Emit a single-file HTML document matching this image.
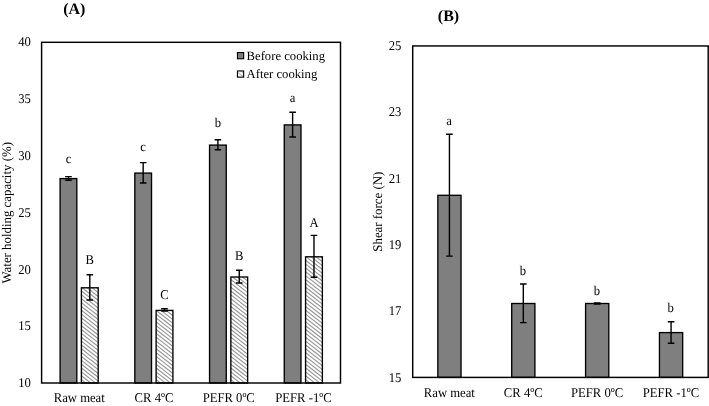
<!DOCTYPE html>
<html lang="en"><head><meta charset="utf-8"><title>Figure</title>
<style>
html,body{margin:0;padding:0;background:#fff;}
body{width:709px;height:406px;overflow:hidden;}
svg{display:block;}
svg text{font-family:"Liberation Serif",serif;font-size:12.67px;fill:#000;text-rendering:geometricPrecision;}
svg text.ttl{font-weight:bold;font-size:16px;}
</style></head><body>
<svg width="709" height="406" viewBox="0 0 709 406">
<rect x="0" y="0" width="709" height="406" fill="#fff"/>

<text x="74.30" y="14.10" text-anchor="middle" class="ttl">(A)</text>
<text transform="translate(30.80,46.40) scale(1.0,1.06)" text-anchor="end" >40</text>
<text transform="translate(30.80,103.18) scale(1.0,1.06)" text-anchor="end" >35</text>
<text transform="translate(30.80,159.97) scale(1.0,1.06)" text-anchor="end" >30</text>
<text transform="translate(30.80,216.75) scale(1.0,1.06)" text-anchor="end" >25</text>
<text transform="translate(30.80,273.53) scale(1.0,1.06)" text-anchor="end" >20</text>
<text transform="translate(30.80,330.32) scale(1.0,1.06)" text-anchor="end" >15</text>
<text transform="translate(30.80,387.10) scale(1.0,1.06)" text-anchor="end" >10</text>
<text transform="translate(11.0,212.8) rotate(-90) scale(0.975,1)" text-anchor="middle" style="font-size:13.2px">Water holding capacity (%)</text>
<rect x="60.10" y="178.60" width="16.70" height="204.40" fill="#7f7f7f" stroke="#000" stroke-width="1.35"/>
<path d="M68.45 176.60V180.30M65.15 176.60H71.75M65.15 180.30H71.75" stroke="#000" stroke-width="1.4" fill="none"/>
<text transform="translate(68.45,162.80) scale(1.0,1.06)" text-anchor="middle" >c</text>
<clipPath id="c1"><rect x="81.40" y="287.80" width="16.80" height="95.20"/></clipPath><rect x="81.40" y="287.80" width="16.80" height="95.20" fill="#fff"/><path clip-path="url(#c1)" d="M81.40 271.80L98.20 284.90M81.40 275.65L98.20 288.75M81.40 279.50L98.20 292.60M81.40 283.35L98.20 296.45M81.40 287.20L98.20 300.30M81.40 291.05L98.20 304.15M81.40 294.90L98.20 308.00M81.40 298.75L98.20 311.85M81.40 302.60L98.20 315.70M81.40 306.45L98.20 319.55M81.40 310.30L98.20 323.40M81.40 314.15L98.20 327.25M81.40 318.00L98.20 331.10M81.40 321.85L98.20 334.95M81.40 325.70L98.20 338.80M81.40 329.55L98.20 342.65M81.40 333.40L98.20 346.50M81.40 337.25L98.20 350.35M81.40 341.10L98.20 354.20M81.40 344.95L98.20 358.05M81.40 348.80L98.20 361.90M81.40 352.65L98.20 365.75M81.40 356.50L98.20 369.60M81.40 360.35L98.20 373.45M81.40 364.20L98.20 377.30M81.40 368.05L98.20 381.15M81.40 371.90L98.20 385.00M81.40 375.75L98.20 388.85M81.40 379.60L98.20 392.70" stroke="#969696" stroke-width="1.1" fill="none"/><rect x="81.40" y="287.80" width="16.80" height="95.20" fill="none" stroke="#000" stroke-width="1.35"/>
<path d="M89.80 274.80V300.00M86.50 274.80H93.10M86.50 300.00H93.10" stroke="#000" stroke-width="1.4" fill="none"/>
<text transform="translate(89.80,264.00) scale(1.0,1.06)" text-anchor="middle" >B</text>
<text transform="translate(79.26,401.60) scale(1.0,1.06)" text-anchor="middle" >Raw meat</text>
<rect x="134.82" y="173.10" width="16.70" height="209.90" fill="#7f7f7f" stroke="#000" stroke-width="1.35"/>
<path d="M143.17 162.60V183.00M139.87 162.60H146.47M139.87 183.00H146.47" stroke="#000" stroke-width="1.4" fill="none"/>
<text transform="translate(143.17,151.40) scale(1.0,1.06)" text-anchor="middle" >c</text>
<clipPath id="c2"><rect x="156.12" y="310.40" width="16.80" height="72.60"/></clipPath><rect x="156.12" y="310.40" width="16.80" height="72.60" fill="#fff"/><path clip-path="url(#c2)" d="M156.12 294.90L172.93 308.00M156.12 298.75L172.93 311.85M156.12 302.60L172.93 315.70M156.12 306.45L172.93 319.55M156.12 310.30L172.93 323.40M156.12 314.15L172.93 327.25M156.12 318.00L172.93 331.10M156.12 321.85L172.93 334.95M156.12 325.70L172.93 338.80M156.12 329.55L172.93 342.65M156.12 333.40L172.93 346.50M156.12 337.25L172.93 350.35M156.12 341.10L172.93 354.20M156.12 344.95L172.93 358.05M156.12 348.80L172.93 361.90M156.12 352.65L172.93 365.75M156.12 356.50L172.93 369.60M156.12 360.35L172.93 373.45M156.12 364.20L172.93 377.30M156.12 368.05L172.93 381.15M156.12 371.90L172.93 385.00M156.12 375.75L172.93 388.85M156.12 379.60L172.93 392.70" stroke="#969696" stroke-width="1.1" fill="none"/><rect x="156.12" y="310.40" width="16.80" height="72.60" fill="none" stroke="#000" stroke-width="1.35"/>
<path d="M164.53 308.70V311.10M161.22 308.70H167.83M161.22 311.10H167.83" stroke="#000" stroke-width="1.4" fill="none"/>
<text transform="translate(164.53,299.30) scale(1.0,1.06)" text-anchor="middle" >C</text>
<text transform="translate(153.99,401.60) scale(1.0,1.06)" text-anchor="middle" >CR 4ºC</text>
<rect x="209.55" y="145.10" width="16.70" height="237.90" fill="#7f7f7f" stroke="#000" stroke-width="1.35"/>
<path d="M217.90 139.80V149.80M214.60 139.80H221.20M214.60 149.80H221.20" stroke="#000" stroke-width="1.4" fill="none"/>
<text transform="translate(217.90,126.90) scale(1.0,1.06)" text-anchor="middle" >b</text>
<clipPath id="c3"><rect x="230.85" y="277.00" width="16.80" height="106.00"/></clipPath><rect x="230.85" y="277.00" width="16.80" height="106.00" fill="#fff"/><path clip-path="url(#c3)" d="M230.85 260.25L247.65 273.35M230.85 264.10L247.65 277.20M230.85 267.95L247.65 281.05M230.85 271.80L247.65 284.90M230.85 275.65L247.65 288.75M230.85 279.50L247.65 292.60M230.85 283.35L247.65 296.45M230.85 287.20L247.65 300.30M230.85 291.05L247.65 304.15M230.85 294.90L247.65 308.00M230.85 298.75L247.65 311.85M230.85 302.60L247.65 315.70M230.85 306.45L247.65 319.55M230.85 310.30L247.65 323.40M230.85 314.15L247.65 327.25M230.85 318.00L247.65 331.10M230.85 321.85L247.65 334.95M230.85 325.70L247.65 338.80M230.85 329.55L247.65 342.65M230.85 333.40L247.65 346.50M230.85 337.25L247.65 350.35M230.85 341.10L247.65 354.20M230.85 344.95L247.65 358.05M230.85 348.80L247.65 361.90M230.85 352.65L247.65 365.75M230.85 356.50L247.65 369.60M230.85 360.35L247.65 373.45M230.85 364.20L247.65 377.30M230.85 368.05L247.65 381.15M230.85 371.90L247.65 385.00M230.85 375.75L247.65 388.85M230.85 379.60L247.65 392.70" stroke="#969696" stroke-width="1.1" fill="none"/><rect x="230.85" y="277.00" width="16.80" height="106.00" fill="none" stroke="#000" stroke-width="1.35"/>
<path d="M239.25 270.20V283.00M235.95 270.20H242.55M235.95 283.00H242.55" stroke="#000" stroke-width="1.4" fill="none"/>
<text transform="translate(239.25,259.70) scale(1.0,1.06)" text-anchor="middle" >B</text>
<text transform="translate(228.71,401.60) scale(1.0,1.06)" text-anchor="middle" >PEFR 0ºC</text>
<rect x="284.27" y="124.90" width="16.70" height="258.10" fill="#7f7f7f" stroke="#000" stroke-width="1.35"/>
<path d="M292.62 112.30V137.00M289.32 112.30H295.93M289.32 137.00H295.93" stroke="#000" stroke-width="1.4" fill="none"/>
<text transform="translate(292.62,102.20) scale(1.0,1.06)" text-anchor="middle" >a</text>
<clipPath id="c4"><rect x="305.57" y="256.80" width="16.80" height="126.20"/></clipPath><rect x="305.57" y="256.80" width="16.80" height="126.20" fill="#fff"/><path clip-path="url(#c4)" d="M305.57 241.00L322.38 254.10M305.57 244.85L322.38 257.95M305.57 248.70L322.38 261.80M305.57 252.55L322.38 265.65M305.57 256.40L322.38 269.50M305.57 260.25L322.38 273.35M305.57 264.10L322.38 277.20M305.57 267.95L322.38 281.05M305.57 271.80L322.38 284.90M305.57 275.65L322.38 288.75M305.57 279.50L322.38 292.60M305.57 283.35L322.38 296.45M305.57 287.20L322.38 300.30M305.57 291.05L322.38 304.15M305.57 294.90L322.38 308.00M305.57 298.75L322.38 311.85M305.57 302.60L322.38 315.70M305.57 306.45L322.38 319.55M305.57 310.30L322.38 323.40M305.57 314.15L322.38 327.25M305.57 318.00L322.38 331.10M305.57 321.85L322.38 334.95M305.57 325.70L322.38 338.80M305.57 329.55L322.38 342.65M305.57 333.40L322.38 346.50M305.57 337.25L322.38 350.35M305.57 341.10L322.38 354.20M305.57 344.95L322.38 358.05M305.57 348.80L322.38 361.90M305.57 352.65L322.38 365.75M305.57 356.50L322.38 369.60M305.57 360.35L322.38 373.45M305.57 364.20L322.38 377.30M305.57 368.05L322.38 381.15M305.57 371.90L322.38 385.00M305.57 375.75L322.38 388.85M305.57 379.60L322.38 392.70" stroke="#969696" stroke-width="1.1" fill="none"/><rect x="305.57" y="256.80" width="16.80" height="126.20" fill="none" stroke="#000" stroke-width="1.35"/>
<path d="M313.98 235.40V277.30M310.68 235.40H317.28M310.68 277.30H317.28" stroke="#000" stroke-width="1.4" fill="none"/>
<text transform="translate(313.98,227.20) scale(1.0,1.06)" text-anchor="middle" >A</text>
<text transform="translate(303.44,401.60) scale(1.0,1.06)" text-anchor="middle" >PEFR -1ºC</text>
<rect x="41.6" y="42.3" width="298.9" height="340.7" fill="none" stroke="#000" stroke-width="1.45"/>
<rect x="237.45" y="52.55" width="6.2" height="6.2" fill="#7f7f7f" stroke="#000" stroke-width="1.1"/>
<text transform="translate(246.60,59.50) scale(1.0,1.0)" text-anchor="start" >Before cooking</text>
<clipPath id="c5"><rect x="237.45" y="70.95" width="6.20" height="6.20"/></clipPath><rect x="237.45" y="70.95" width="6.20" height="6.20" fill="#fff"/><path clip-path="url(#c5)" d="M237.45 64.46L243.65 69.30M237.45 68.31L243.65 73.15M237.45 72.16L243.65 77.00M237.45 76.01L243.65 80.85" stroke="#bbbbbb" stroke-width="1.1" fill="none"/><rect x="237.45" y="70.95" width="6.20" height="6.20" fill="none" stroke="#000" stroke-width="1.1"/>
<text transform="translate(246.60,78.00) scale(1.0,1.0)" text-anchor="start" >After cooking</text>
<text x="448.50" y="20.60" text-anchor="middle" class="ttl">(B)</text>
<text transform="translate(401.40,50.05) scale(1.0,1.06)" text-anchor="end" >25</text>
<text transform="translate(401.40,116.34) scale(1.0,1.06)" text-anchor="end" >23</text>
<text transform="translate(401.40,182.63) scale(1.0,1.06)" text-anchor="end" >21</text>
<text transform="translate(401.40,248.92) scale(1.0,1.06)" text-anchor="end" >19</text>
<text transform="translate(401.40,315.21) scale(1.0,1.06)" text-anchor="end" >17</text>
<text transform="translate(401.40,381.50) scale(1.0,1.06)" text-anchor="end" >15</text>
<text transform="translate(382.2,211.7) rotate(-90) scale(0.975,1)" text-anchor="middle" style="font-size:13.2px">Shear force (N)</text>
<rect x="437.84" y="195.30" width="23.20" height="182.10" fill="#7f7f7f" stroke="#000" stroke-width="1.35"/>
<path d="M449.44 134.30V256.10M446.14 134.30H452.74M446.14 256.10H452.74" stroke="#000" stroke-width="1.4" fill="none"/>
<text transform="translate(449.14,125.00) scale(1.0,1.06)" text-anchor="middle" >a</text>
<text transform="translate(449.34,397.20) scale(1.0,1.06)" text-anchor="middle" >Raw meat</text>
<rect x="511.71" y="303.50" width="23.20" height="73.90" fill="#7f7f7f" stroke="#000" stroke-width="1.35"/>
<path d="M523.31 284.00V322.60M520.01 284.00H526.61M520.01 322.60H526.61" stroke="#000" stroke-width="1.4" fill="none"/>
<text transform="translate(523.01,275.20) scale(1.0,1.06)" text-anchor="middle" >b</text>
<text transform="translate(523.21,397.20) scale(1.0,1.06)" text-anchor="middle" >CR 4ºC</text>
<rect x="585.59" y="303.50" width="23.20" height="73.90" fill="#7f7f7f" stroke="#000" stroke-width="1.35"/>
<path d="M597.19 303.00V304.00M593.89 303.00H600.49M593.89 304.00H600.49" stroke="#000" stroke-width="1.4" fill="none"/>
<text transform="translate(596.89,294.80) scale(1.0,1.06)" text-anchor="middle" >b</text>
<text transform="translate(597.09,397.20) scale(1.0,1.06)" text-anchor="middle" >PEFR 0ºC</text>
<rect x="659.46" y="332.60" width="23.20" height="44.80" fill="#7f7f7f" stroke="#000" stroke-width="1.35"/>
<path d="M671.06 321.80V343.30M667.76 321.80H674.36M667.76 343.30H674.36" stroke="#000" stroke-width="1.4" fill="none"/>
<text transform="translate(670.76,312.40) scale(1.0,1.06)" text-anchor="middle" >b</text>
<text transform="translate(670.96,397.20) scale(1.0,1.06)" text-anchor="middle" >PEFR -1ºC</text>
<rect x="412.7" y="45.95" width="295.50000000000006" height="331.45" fill="none" stroke="#000" stroke-width="1.45"/>
</svg>
</body></html>
